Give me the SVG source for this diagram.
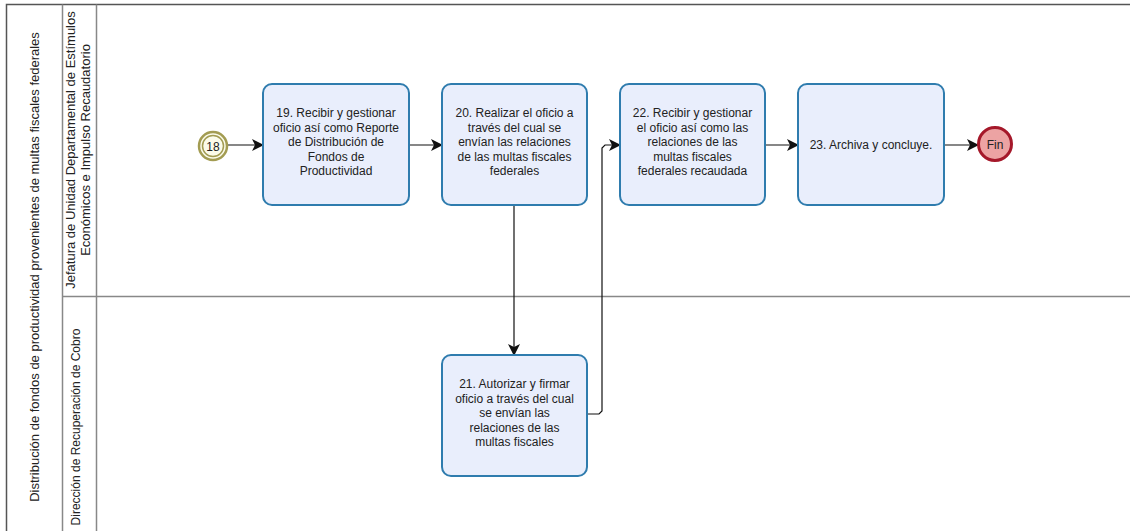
<svg xmlns="http://www.w3.org/2000/svg" width="1130" height="531" viewBox="0 0 1130 531">
  <style>
    .frame { fill: none; stroke: #555; stroke-width: 1.5; }
    .divider { fill: none; stroke: #888; stroke-width: 1.5; }
    .task { fill: #E9EEFC; stroke: #2F7CAE; stroke-width: 2; }
    .label { font-family: "Liberation Sans", Arial, sans-serif; font-size: 13px; fill: #222; text-anchor: middle; }
    .tlabel { font-family: "Liberation Sans", Arial, sans-serif; font-size: 12px; fill: #222; text-anchor: middle; }
    .flow { fill: none; stroke: #111; stroke-width: 1.2; }
  </style>
  <defs>
    <marker id="arrow" viewBox="0 0 12 12" refX="11" refY="6" markerWidth="12" markerHeight="12" markerUnits="userSpaceOnUse" orient="auto">
      <path d="M0,0 L12,6 L0,12 L3,6 Z" fill="#111"/>
    </marker>
  </defs>

  <rect x="0" y="0" width="1130" height="531" fill="#fff"/>

  <!-- pool and lanes -->
  <g id="pool">
    <path class="frame" d="M1130,4.5 H6.5 V531"/>
    <path class="divider" d="M62.5,4.5 V531"/>
    <path class="divider" d="M96.5,4.5 V531"/>
    <path class="divider" d="M62.5,296.5 H1130"/>
    <text class="label" transform="translate(38.5,267) rotate(-90)">Distribución de fondos de productividad provenientes de multas fiscales federales</text>
    <text class="label" transform="translate(74.5,150) rotate(-90)">Jefatura de Unidad Departamental de Estímulos</text>
    <text class="label" transform="translate(90,150) rotate(-90)">Económicos e Impulso Recaudatorio</text>
    <text class="label" style="font-size:12px" transform="translate(80,427) rotate(-90)">Dirección de Recuperación de Cobro</text>
  </g>

  <!-- connectors -->
  <g id="connectors">
    <path class="flow" d="M228,145 H263" marker-end="url(#arrow)"/>
    <path class="flow" d="M409,145 H442" marker-end="url(#arrow)"/>
    <path class="flow" d="M514,205 V355" marker-end="url(#arrow)"/>
    <path class="flow" d="M587,414 H599 L602,411 V148 L605,145 H620" marker-end="url(#arrow)"/>
    <path class="flow" d="M765,145 H798" marker-end="url(#arrow)"/>
    <path class="flow" d="M944,145 H978" marker-end="url(#arrow)"/>
  </g>

  <!-- start event -->
  <g id="start18">
    <circle cx="213" cy="146" r="14" fill="#FBFBEA" stroke="#A39C52" stroke-width="2.5"/>
    <circle cx="213" cy="146" r="10.5" fill="none" stroke="#A39C52" stroke-width="1.5"/>
    <text class="tlabel" x="213" y="150.5">18</text>
  </g>

  <g id="task19">
    <rect class="task" x="263" y="84" width="146" height="121" rx="9"/>
    <text class="tlabel" x="336"><tspan x="336" y="117">19. Recibir y gestionar</tspan><tspan x="336" y="131.5">oficio así como Reporte</tspan><tspan x="336" y="146">de Distribución de</tspan><tspan x="336" y="160.5">Fondos de</tspan><tspan x="336" y="175">Productividad</tspan></text>
  </g>

  <g id="task20">
    <rect class="task" x="442" y="84" width="145" height="121" rx="9"/>
    <text class="tlabel" x="514.5"><tspan x="514.5" y="117">20. Realizar el oficio a</tspan><tspan x="514.5" y="131.5">través del cual se</tspan><tspan x="514.5" y="146">envían las relaciones</tspan><tspan x="514.5" y="160.5">de las multas fiscales</tspan><tspan x="514.5" y="175">federales</tspan></text>
  </g>

  <g id="task21">
    <rect class="task" x="442" y="355" width="145" height="121" rx="9"/>
    <text class="tlabel" x="514.5"><tspan x="514.5" y="388">21. Autorizar y firmar</tspan><tspan x="514.5" y="402.5">oficio a través del cual</tspan><tspan x="514.5" y="417">se envían las</tspan><tspan x="514.5" y="431.5">relaciones de las</tspan><tspan x="514.5" y="446">multas fiscales</tspan></text>
  </g>

  <g id="task22">
    <rect class="task" x="620" y="84" width="145" height="121" rx="9"/>
    <text class="tlabel" x="692.5"><tspan x="692.5" y="117">22. Recibir y gestionar</tspan><tspan x="692.5" y="131.5">el oficio así como las</tspan><tspan x="692.5" y="146">relaciones de las</tspan><tspan x="692.5" y="160.5">multas fiscales</tspan><tspan x="692.5" y="175">federales recaudada</tspan></text>
  </g>

  <g id="task23">
    <rect class="task" x="798" y="84" width="146" height="121" rx="9"/>
    <text class="tlabel" x="871" y="149">23. Archiva y concluye.</text>
  </g>

  <g id="fin">
    <circle cx="995" cy="144" r="16.5" fill="#ECA3A3" stroke="#A5182A" stroke-width="3"/>
    <text class="tlabel" x="995" y="148.5">Fin</text>
  </g>
</svg>
